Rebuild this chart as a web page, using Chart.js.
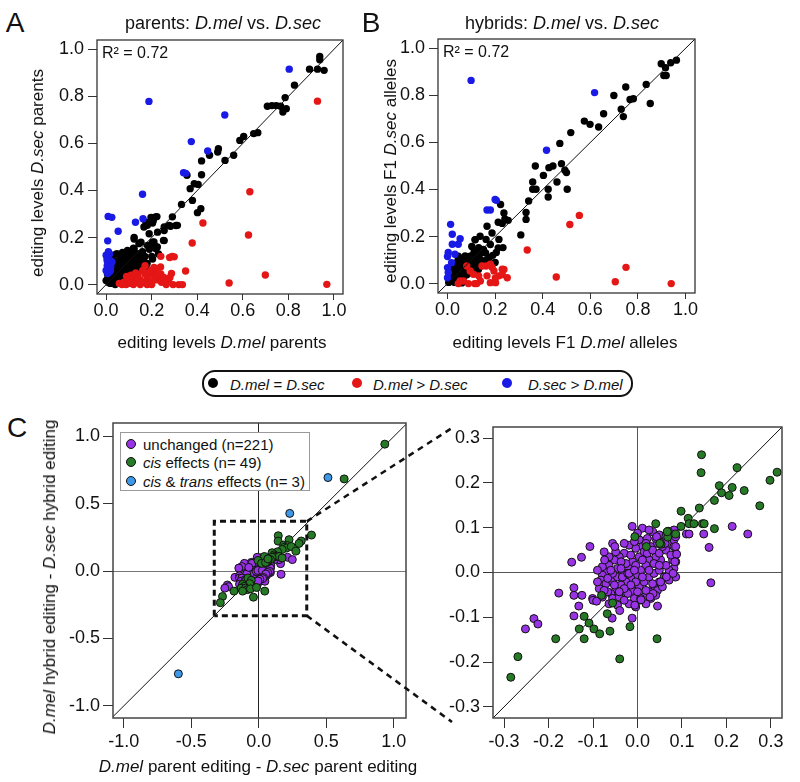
<!DOCTYPE html>
<html>
<head>
<meta charset="utf-8">
<script src="https://cdn.jsdelivr.net/npm/chart.js@4.4.1/dist/chart.umd.min.js"></script>
<style>
body { margin: 0; background: #fff; }
#page { position: relative; width: 800px; height: 782px; overflow: hidden;
        font-family: "Liberation Sans", Arial, Helvetica, sans-serif; color: #111; }
canvas { position: absolute; }
.t { position: absolute; white-space: nowrap; transform: translate(-50%, -50%); }
.l { position: absolute; white-space: nowrap; transform: translateY(-50%); }
.rot { transform: translate(-50%, -50%) rotate(-90deg); }
.dot { position: absolute; border-radius: 50%; box-sizing: border-box; }
</style>
</head>
<body>
<div id="page">
  <canvas id="chartA"></canvas>
  <canvas id="chartB"></canvas>
  <canvas id="chartCL"></canvas>
  <canvas id="chartCR"></canvas>

  <div class="t" style="left:15px;top:23px;font-size:28px">A</div>
  <div class="t" style="left:371px;top:23px;font-size:28px">B</div>
  <div class="t" style="left:17px;top:428px;font-size:28px">C</div>

  <div class="t" style="left:223px;top:23px;font-size:18px">parents: <i>D.mel</i> vs. <i>D.sec</i></div>
  <div class="t" style="left:562px;top:23px;font-size:18px">hybrids: <i>D.mel</i> vs. <i>D.sec</i></div>
  <div class="t rot" style="left:38px;top:173px;font-size:17px">editing levels <i>D.sec</i> parents</div>
  <div class="t rot" style="left:391px;top:171px;font-size:17px">editing levels F1 <i>D.sec</i> alleles</div>
  <div class="t" style="left:222px;top:343px;font-size:17px">editing levels <i>D.mel</i> parents</div>
  <div class="t" style="left:565px;top:343px;font-size:17px">editing levels F1 <i>D.mel</i> alleles</div>
  <div class="l" style="left:102px;top:53px;font-size:16px">R² = 0.72</div>
  <div class="l" style="left:443px;top:52px;font-size:16px">R² = 0.72</div>

  <div style="position:absolute;left:202px;top:370px;width:431px;height:27px;border:2px solid #111;border-radius:13px;box-sizing:border-box"></div>
  <div class="dot" style="left:208px;top:378px;width:10px;height:10px;background:#000"></div>
  <div class="l" style="left:230px;top:384px;font-size:15px;font-style:italic">D.mel = D.sec</div>
  <div class="dot" style="left:352px;top:378px;width:10px;height:10px;background:#e51616"></div>
  <div class="l" style="left:373px;top:384px;font-size:15px;font-style:italic">D.mel &gt; D.sec</div>
  <div class="dot" style="left:502px;top:378px;width:10px;height:10px;background:#1a1ae6"></div>
  <div class="l" style="left:528px;top:384px;font-size:15px;font-style:italic">D.sec &gt; D.mel</div>

  <div class="t rot" style="left:50px;top:577px;font-size:17px"><i>D.mel</i> hybrid editing - <i>D.sec</i> hybrid editing</div>
  <div class="t" style="left:258px;top:767px;font-size:17px"><i>D.mel</i> parent editing - <i>D.sec</i> parent editing</div>

  <div style="position:absolute;left:120px;top:432px;width:190px;height:59px;border:1.5px solid #9a9a9a;background:#fff;box-sizing:border-box"></div>
  <div class="dot" style="left:126px;top:439px;width:10px;height:10px;background:#9933e6;border:1px solid #111"></div>
  <div class="l" style="left:143px;top:444px;font-size:15px">unchanged (n=221)</div>
  <div class="dot" style="left:126px;top:457px;width:10px;height:10px;background:#267a26;border:1px solid #111"></div>
  <div class="l" style="left:143px;top:462px;font-size:15px"><i>cis</i> effects (n= 49)</div>
  <div class="dot" style="left:126px;top:476px;width:10px;height:10px;background:#3d99e8;border:1px solid #111"></div>
  <div class="l" style="left:143px;top:481px;font-size:15px"><i>cis</i> &amp; <i>trans</i> effects (n= 3)</div>
</div>

<script>
// ---- data: [x, y] pairs ----
var parentsSame = [
  [.938,.970],[.938,.956],[.893,.916],[.928,.916],[.957,.911],[.827,.848],[.786,.795],[.708,.758],[.728,.761],[.747,.761],
  [.766,.758],[.776,.734],[.791,.748],[.666,.646],[.648,.642],[.604,.630],[.587,.613],[.560,.550],[.522,.528],[.493,.578],
  [.490,.564],[.454,.550],[.419,.526],[.355,.465],[.419,.467],[.387,.429],[.404,.426],[.369,.408],[.379,.358],[.331,.341],
  [.416,.323],[.401,.306],[.291,.288],[.313,.252],[.283,.248],[.255,.245],[.217,.288],[.207,.273],[.181,.252],[.166,.245],
  [.252,.188],[.225,.160],[.210,.181],[.123,.200],[.144,.174],[.223,.289],[.197,.286],[.175,.265],[.204,.262],[.277,.251],
  [.307,.251],[.255,.230],[.226,.223],[.189,.216],[.255,.187],[.204,.180],[.123,.194],[.153,.180],[.182,.166],[.219,.152],
  [.123,.152],[.094,.145],[.050,.130],[.072,.137],[.101,.123],[.138,.130],[.167,.116],[.204,.109],[.109,.102],[.079,.095],
  [.050,.081],[.138,.088],[.175,.074],[.020,.060],[.042,.045],[.072,.060],[.101,.074],[.123,.053],[.013,.031],[.028,.017],
  [.050,.010],[.006,.024],[.079,.038],[.109,.031],[.153,.102],[.064,.109],[.035,.102],[.087,.074],[.057,.067],[.028,.074],
  [.006,.045],[.000,.017],[.020,.020],[.035,.010],[.055,.030],[.065,.050],[.045,.070],[.085,.060],[.110,.080],[.130,.100],
  [.075,.080],[.095,.110],[.115,.120],[.135,.130],[.160,.140],[.035,.040],[.055,.090],[.065,.120],[.025,.050],[.012,.008],
  [.045,.025],[.085,.040],[.105,.060],[.170,.120],[.190,.150],[.210,.170],[.230,.130],[.160,.100],[.180,.090],[.200,.120],
  [.130,.075],[.150,.090],[.090,.020],[.070,.015],[.110,.045],[.030,.085],[.010,.065],[.015,.035],[.040,.055],[.060,.040],
  [.080,.075],[.100,.090],[.120,.085],[.140,.115],[.030,.025],[.050,.060],[.070,.100],[.090,.130],[.110,.140],[.025,.110],
  [.045,.130],[.020,.005],[.040,.000],[.060,.055],[.100,.015],[.120,.065],[.140,.060],[.160,.080],[.030,.060],[.050,.020],
  [.070,.030],[.090,.050],[.110,.070],[.130,.115],[.150,.130],[.060,.085],[.080,.115],[.100,.135],[.120,.155],[.035,.090],
  [.015,.090],[.025,.125]
];
var parentsMelHigher = [
  [.928,.780],[.631,.395],[.425,.262],[.625,.211],[.378,.177],[.699,.041],[.540,.007],[.969,.001],[.290,.120],[.299,.118],
  [.240,.120],[.349,.058],[.287,.047],[.319,.000],[.335,.000],[.058,.005],[.078,.010],[.088,.000],[.099,.020],[.109,.005],
  [.119,.030],[.130,.015],[.140,.040],[.150,.020],[.161,.060],[.171,.045],[.181,.030],[.191,.010],[.202,.050],[.212,.070],
  [.222,.020],[.233,.040],[.243,.010],[.253,.030],[.264,.000],[.274,.020],[.294,.000],[.130,.050],[.109,.040],[.150,.000],
  [.171,.080],[.197,.060],[.212,.030],[.279,.115],[.239,.075],[.210,.073],[.070,.000],[.090,.035],[.120,.000],[.140,.025],
  [.160,.010],[.180,.050],[.200,.000],[.220,.055],[.240,.045],[.260,.010],[.180,.000],[.280,.030],[.100,.025]
];
var parentsSecHigher = [
  [.188,.779],[.521,.721],[.804,.916],[.374,.608],[.446,.568],[.340,.476],[.350,.473],[.160,.384],[.009,.290],[.025,.286],
  [.129,.265],[.162,.280],[.053,.227],[.007,.186],[.004,.110],[.015,.130],[.019,.090],[.012,.075],[.019,.060],[.007,.047],
  [.026,.096],[.010,.140],[.020,.100],[.005,.080],[.000,.060],[.010,.115],[.000,.125],[.015,.055],[.020,.075],[.005,.100]
];
var hybridsSame = [
  [.898,.935],[.916,.918],[.938,.939],[.962,.950],[.909,.885],[.919,.885],[.835,.847],[.749,.836],[.699,.800],[.781,.786],
  [.767,.783],[.852,.766],[.730,.741],[.739,.710],[.656,.722],[.575,.691],[.599,.677],[.635,.666],[.518,.642],[.472,.596],
  [.369,.500],[.443,.500],[.479,.510],[.426,.493],[.403,.460],[.493,.482],[.500,.472],[.460,.432],[.423,.401],[.503,.401],
  [.358,.432],[.358,.401],[.372,.401],[.423,.368],[.341,.351],[.330,.302],[.330,.273],[.308,.207],[.223,.336],[.237,.300],
  [.241,.275],[.255,.269],[.213,.261],[.166,.244],[.137,.201],[.187,.215],[.180,.166],[.213,.152],[.151,.145],[.123,.137],
  [.116,.187],[.102,.158],[.095,.116],[.067,.102],[.038,.088],[.137,.102],[.166,.102],[.109,.074],[.081,.067],[.052,.060],
  [.024,.045],[.137,.074],[.081,.038],[.038,.024],[.017,.010],[.060,.003],[.010,.060],[.045,.116],[.230,.256],[.216,.188],
  [.233,.153],[.205,.132],[.162,.188],[.116,.186],[.131,.153],[.112,.136],[.074,.118],[.045,.103],[.020,.020],[.030,.030],
  [.040,.050],[.050,.040],[.060,.070],[.070,.050],[.080,.090],[.090,.080],[.100,.100],[.110,.090],[.120,.110],[.130,.120],
  [.140,.100],[.030,.070],[.050,.090],[.070,.110],[.090,.060],[.110,.055],[.130,.060],[.150,.085],[.060,.020],[.040,.010],
  [.020,.040],[.010,.020],[.030,.005],[.160,.130],[.190,.120],[.200,.090],[.175,.110],[.015,.035],[.035,.060],[.055,.075],
  [.075,.085],[.095,.095],[.120,.080],[.140,.130],[.025,.080],[.045,.085],[.065,.040],[.085,.110],[.105,.120],[.125,.090],
  [.005,.005],[.025,.012],[.050,.025],[.070,.030],[.090,.045]
];
var hybridsMelHigher = [
  [.335,.143],[.514,.251],[.554,.290],[.457,.028],[.750,.069],[.705,.008],[.940,.000],[.081,.075],[.095,.054],[.109,.040],
  [.131,.033],[.067,.011],[.088,.000],[.114,.000],[.138,.011],[.162,.075],[.180,.082],[.195,.054],[.216,.033],[.230,.061],
  [.251,.025],[.180,.004],[.202,.004],[.166,.033],[.045,.000],[.053,.011],[.145,.075],[.237,.060],[.230,.038],[.201,.024],
  [.123,.000],[.187,.070]
];
var hybridsSecHigher = [
  [.099,.864],[.618,.812],[.416,.567],[.205,.354],[.200,.358],[.166,.313],[.180,.313],[.013,.252],[.020,.210],[.053,.191],
  [.045,.167],[.020,.167],[.003,.132],[.000,.115],[.031,.125],[.017,.089],[.000,.068],[.003,.047],[.000,.025]
];
var unchanged = [
  [.004,.073],[.022,.076],[.034,.091],[.049,.084],[.011,.058],[-.004,.054],[-.019,.061],[-.030,.043],[-.041,.035],[-.052,.028],
  [-.064,.016],[-.071,.001],[-.079,-.006],[-.082,-.017],[-.071,-.025],[-.056,-.021],[-.045,-.010],[-.034,.001],[-.022,.013],[-.011,.024],
  [.004,.035],[.015,.046],[.030,.058],[.045,.065],[.060,.069],[.071,.065],[.082,.058],[.085,.043],[.079,.028],[.086,.024],
  [.082,.009],[.071,.005],[.064,.016],[.052,.028],[.041,.035],[.026,.028],[.019,.016],[.007,.005],[-.004,-.006],[-.015,-.013],
  [-.026,-.021],[-.037,-.028],[-.049,-.040],[-.060,-.047],[-.067,-.043],[-.056,-.058],[-.041,-.055],[-.026,-.047],[-.011,-.040],[.004,-.032],
  [.015,-.021],[.026,-.010],[.037,-.002],[.049,.005],[.060,-.010],[.049,-.021],[.037,-.032],[.026,-.043],[.015,-.055],[.004,-.062],
  [-.007,-.058],[-.019,-.070],[-.004,-.077],[.007,-.058],[.019,-.040],[.034,-.025],[.045,-.040],[.030,-.058],[.019,-.070],[-.022,-.047],
  [-.034,-.010],[-.045,.009],[-.056,-.002],[-.067,-.013],[-.086,-.036],[-.075,-.040],[-.026,.020],[-.015,.039],[-.004,.016],[.011,.028],
  [.022,.043],[.034,.050],[.049,.043],[.064,.050],[.075,.039],[.056,.058],[.041,.076],[.019,.065],[-.007,.069],[-.037,.024],
  [-.049,.046],[-.030,.065],[-.064,.035],[-.079,.013],[-.090,.005],[-.060,.005],[-.037,.009],[-.022,-.002],[-.004,-.021],[.011,-.010],
  [.000,-.043],[-.015,-.028],[-.030,-.036],[-.041,-.043],[-.052,-.028],[.037,.020],[.049,.016],[.011,.099],[.026,.095],[.000,.088],
  [.064,.080],[.086,-.010],[.071,-.017],[.056,-.032],[.041,-.051],[-.030,-.062],[-.045,-.073],[-.064,-.070],[-.079,-.055],[-.090,-.021],
  [-.101,-.058],[-.075,.046],[-.056,.065],[.082,.095],[-.019,-.002],[-.007,.005],[.026,.005],[.082,.073],[-.012,.103],[-.107,.058],
  [-.126,.034],[-.148,.023],[-.051,.058],[-.074,.028],[-.177,-.046],[-.143,-.034],[-.143,-.051],[-.125,-.051],[-.132,-.075],[-.143,-.097],
  [-.233,-.103],[-.224,-.115],[-.252,-.126],[-.040,-.085],[-.057,-.102],[-.012,-.102],[-.100,-.062],[-.092,-.064],[.045,-.075],[.165,-.023],
  [.161,.056],[.149,.086],[.213,.103],[.248,.086],[.110,.086],[.116,.086],[.086,.080],[.086,.058],[.088,.041],[.084,.024],
  [.080,-.002],[.065,-.010],[.052,-.021],[.035,-.047],[.028,-.055],[.008,-.061],[-.006,-.073],[.043,.080],[.062,.065]
];
var cisEffects = [
  [.933,.943],[.632,.685],[.390,.268],[.144,.263],[.143,.223],[.224,.234],[.314,.224],[.298,.206],[.184,.194],[.213,.190],
  [.189,.178],[.206,.172],[.240,.183],[.173,.161],[.275,.149],[.139,.144],[.098,.137],[.114,.121],[.116,.109],[.127,.109],
  [.146,.109],[.150,.109],[.098,.103],[.041,.109],[.173,.098],[.086,.086],[.069,.092],[.068,.079],[.053,.063],[-.006,.080],
  [.020,.058],[-.081,-.051],[-.056,-.068],[-.068,-.092],[-.120,-.098],[-.109,-.113],[-.131,-.126],[-.098,-.126],[-.085,-.137],[-.062,-.131],
  [-.017,-.121],[-.120,-.148],[-.184,-.148],[.044,-.148],[-.040,-.193],[-.269,-.188],[-.285,-.234],[.050,.065],[.067,.091]
];
var cisTransEffects = [[.512,.695],[.229,.429],[-.596,-.762]];

var ticksAB = [0, 0.2, 0.4, 0.6, 0.8, 1.0];
var ticksCL = [-1.0, -0.5, 0, 0.5, 1.0];
var ticksCR = [-0.3, -0.2, -0.1, 0, 0.1, 0.2, 0.3];

var rangeAB = [-0.04, 1.04];
var rangeCLx = [-1.08, 1.09];
var rangeCLy = [-1.09, 1.10];
var rangeCR = [-0.325, 0.325];
var zoomBox = { left: -0.33, right: 0.355, top: 0.37, bottom: -0.33 };

// ---- layout (page pixels) ----
var FONT = '"Liberation Sans", Arial, Helvetica, sans-serif';
var YW = 70, TOP = 20, XH = 50;

function pts(a) { return a.map(function (p) { return { x: p[0], y: p[1] }; }); }

var frame = {
  id: 'frame',
  afterDraw: function (chart, args, o) {
    var a = chart.chartArea, ctx = chart.ctx;
    ctx.save();
    ctx.strokeStyle = o.color;
    ctx.lineWidth = o.width;
    ctx.strokeRect(a.left, a.top, a.right - a.left, a.bottom - a.top);
    ctx.restore();
  }
};

function axis(pos, range, ticks, o) {
  return {
    type: 'linear', position: pos, min: range[0], max: range[1],
    afterBuildTicks: function (s) { s.ticks = ticks.map(function (v) { return { value: v }; }); },
    afterFit: function (s) { if (pos === 'left') s.width = YW; else s.height = XH; },
    grid: {
      drawOnChartArea: !!o.zero,
      color: function (c) { return (c.tick && c.tick.value === 0 && o.zero) ? o.zero : 'rgba(0,0,0,0)'; },
      tickColor: '#333', tickLength: o.tl, lineWidth: 1
    },
    border: { display: false },
    ticks: {
      color: '#111', padding: o.pad, font: { family: FONT, size: 18 },
      callback: function (v) { return Number(v).toFixed(1); }
    }
  };
}

function makeChart(id, box, rightPad, scales, datasets, plugins, frameOpt) {
  var cv = document.getElementById(id);
  cv.width = (box.r - box.l) + YW + rightPad;
  cv.height = (box.b - box.t) + TOP + XH;
  cv.style.left = (box.l - YW) + 'px';
  cv.style.top = (box.t - TOP) + 'px';
  return new Chart(cv.getContext('2d'), {
    type: 'scatter',
    data: { datasets: datasets },
    options: {
      responsive: false, animation: false, devicePixelRatio: 1, events: [],
      layout: { padding: { left: 0, top: TOP, right: rightPad, bottom: 0 } },
      scales: scales,
      plugins: { legend: { display: false }, tooltip: { enabled: false }, frame: frameOpt }
    },
    plugins: [frame].concat(plugins || [])
  });
}

function dots(arr, color, r, bw, order) {
  return { data: pts(arr), pointRadius: r, pointBackgroundColor: color, backgroundColor: color,
           pointBorderColor: '#111', pointBorderWidth: bw, order: order };
}
function diag(range, order) {
  return { data: [{ x: range[0], y: range[0] }, { x: range[1], y: range[1] }], showLine: true,
           pointRadius: 0, borderColor: '#111', borderWidth: 1, order: order };
}

var RED = '#e51616', BLUE = '#1a1ae6', PURPLE = '#9933e6', GREEN = '#267a26', LBLUE = '#3d99e8';

// Panel A
makeChart('chartA', { l: 97, t: 40, r: 343, b: 294 }, 25, {
  x: axis('bottom', rangeAB, ticksAB, { tl: 6, pad: 0 }),
  y: axis('left', rangeAB, ticksAB, { tl: 9, pad: 4 })
}, [
  dots(parentsSame, '#000', 3.7, 0, 3),
  dots(parentsMelHigher, RED, 3.7, 0, 2),
  dots(parentsSecHigher, BLUE, 3.7, 0, 1),
  diag(rangeAB, 0)
], [], { color: '#333', width: 1.3 });

// Panel B
makeChart('chartB', { l: 438, t: 39, r: 695, b: 293 }, 25, {
  x: axis('bottom', rangeAB, ticksAB, { tl: 6, pad: 0 }),
  y: axis('left', rangeAB, ticksAB, { tl: 9, pad: 4 })
}, [
  dots(hybridsSame, '#000', 3.7, 0, 3),
  dots(hybridsMelHigher, RED, 3.7, 0, 2),
  dots(hybridsSecHigher, BLUE, 3.7, 0, 1),
  diag(rangeAB, 0)
], [], { color: '#333', width: 1.3 });

// Panel C boxes in page pixels, used for the connectors
var boxCR = { l: 493, t: 427, r: 782, b: 718 };
var boxCL = { l: 113, t: 423, r: 406, b: 718 };

var connectors = {
  id: 'connectors',
  afterDraw: function (chart) {
    var x = chart.scales.x, y = chart.scales.y, ctx = chart.ctx;
    var ox = boxCL.l - YW, oy = boxCL.t - TOP;
    var xr = x.getPixelForValue(zoomBox.right);
    ctx.save();
    ctx.strokeStyle = '#111';
    ctx.lineWidth = 2.5;
    ctx.setLineDash([6, 5]);
    ctx.beginPath();
    ctx.moveTo(xr, y.getPixelForValue(zoomBox.top));
    ctx.lineTo(boxCR.l - 41 - ox, boxCR.t + 1 - oy);
    ctx.moveTo(xr, y.getPixelForValue(zoomBox.bottom));
    ctx.lineTo(boxCR.l - 41 - ox, boxCR.b + 4 - oy);
    ctx.stroke();
    ctx.restore();
  }
};

makeChart('chartCL', boxCL, 52, {
  x: axis('bottom', rangeCLx, ticksCL, { tl: 10, pad: 3, zero: '#222' }),
  y: axis('left', rangeCLy, ticksCL, { tl: 10, pad: 3, zero: '#777' })
}, [
  dots(cisTransEffects, LBLUE, 4, 1, 1),
  dots(cisEffects, GREEN, 4, 1, 2),
  dots(unchanged, PURPLE, 4, 1, 3),
  diag([rangeCLy[0], rangeCLy[1]], 9),
  { data: [{ x: zoomBox.left, y: zoomBox.bottom }, { x: zoomBox.left, y: zoomBox.top }, { x: zoomBox.right, y: zoomBox.top },
           { x: zoomBox.right, y: zoomBox.bottom }, { x: zoomBox.left, y: zoomBox.bottom }],
    showLine: true, pointRadius: 0, borderColor: '#111', borderWidth: 3, borderDash: [6, 4], order: 0 }
], [connectors], { color: '#444', width: 1.5 });

makeChart('chartCR', boxCR, 18, {
  x: axis('bottom', rangeCR, ticksCR, { tl: 10, pad: 3, zero: '#555' }),
  y: axis('left', rangeCR, ticksCR, { tl: 10, pad: 3, zero: '#555' })
}, [
  dots(cisTransEffects, LBLUE, 4, 1, 1),
  dots(cisEffects, GREEN, 4, 1, 2),
  dots(unchanged, PURPLE, 4, 1, 3),
  diag(rangeCR, 9)
], [], { color: '#444', width: 1.5 });
</script>
</body>
</html>
